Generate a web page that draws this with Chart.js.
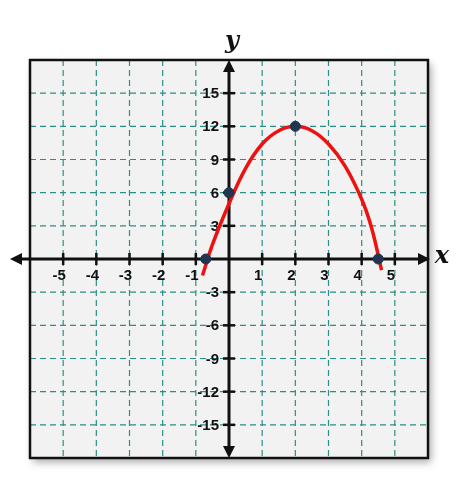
<!DOCTYPE html>
<html>
<head>
<script src="https://cdn.jsdelivr.net/npm/chart.js@4"></script>
<style>
body{margin:0;background:#fff;}
#wrap{width:470px;height:480px;}
</style>
</head>
<body>
<div id="wrap"><canvas id="graph" width="470" height="480"></canvas></div>
<script>
// curve
const curveX = [-0.8, -0.5, 0, 0.5, 1, 1.5, 2, 2.5, 3, 3.5, 4, 4.3, 4.6];
const curveY = [-1.5, 1.3, 5, 8.2, 10.4, 11.6, 12, 11.6, 10.4, 8.4, 5.4, 2.8, -1];
const dotX = [-0.7, 0, 2, 4.5];
const dotY = [0, 6, 12, 0];
const xTicks = [-5, -4, -3, -2, -1, 1, 2, 3, 4, 5];
const yTicks = [15, 12, 9, 6, 3, -3, -6, -9, -12, -15];

const gridPlugin = {
    id: 'gridAxes',
    beforeDatasetsDraw(chart) {
        const c = chart.ctx, a = chart.chartArea;
        const sx = chart.scales.x, sy = chart.scales.y;
        c.save();
        c.shadowColor = 'rgba(0,0,0,0.35)';
        c.shadowBlur = 8; c.shadowOffsetX = 3; c.shadowOffsetY = 4;
        c.fillStyle = '#f2f2f2';
        c.fillRect(a.left, a.top, a.width, a.height);
        c.restore();
        c.save();
        c.strokeStyle = '#2a8f85'; c.lineWidth = 1.2; c.setLineDash([6, 4]);
        for (let v = -5; v <= 5; v++) {
            const px = sx.getPixelForValue(v);
            c.beginPath(); c.moveTo(px, a.top); c.lineTo(px, a.bottom); c.stroke();
        }
        for (let v = -15; v <= 15; v += 3) {
            const py = sy.getPixelForValue(v);
            c.beginPath(); c.moveTo(a.left, py); c.lineTo(a.right, py); c.stroke();
        }
        c.setLineDash([]);
        c.strokeStyle = '#111'; c.lineWidth = 2.5;
        c.strokeRect(a.left, a.top, a.width, a.height);
        const x0 = sx.getPixelForValue(0), y0 = sy.getPixelForValue(0);
        c.lineWidth = 3;
        c.beginPath(); c.moveTo(14, y0); c.lineTo(a.right, y0); c.stroke();
        c.beginPath(); c.moveTo(x0, a.top + 4); c.lineTo(x0, a.bottom - 4); c.stroke();
        c.fillStyle = '#111';
        const arrow = (x, y, dx, dy) => {
            c.beginPath();
            c.moveTo(x, y);
            c.lineTo(x - dx * 12 - dy * 6, y - dy * 12 - dx * 6);
            c.lineTo(x - dx * 12 + dy * 6, y - dy * 12 + dx * 6);
            c.closePath(); c.fill();
        };
        arrow(10, y0, -1, 0); arrow(a.right + 2, y0, 1, 0);
        arrow(x0, a.top, 0, -1); arrow(x0, a.bottom, 0, 1);
        c.lineWidth = 2.5;
        c.font = 'bold 15px "Liberation Sans", Arial';
        c.textAlign = 'center'; c.textBaseline = 'top';
        xTicks.forEach(v => {
            const px = sx.getPixelForValue(v);
            c.beginPath(); c.moveTo(px, y0 - 6); c.lineTo(px, y0 + 6); c.stroke();
            c.fillText(String(v), px - 4, y0 + 9);
        });
        c.textAlign = 'right'; c.textBaseline = 'middle';
        yTicks.forEach(v => {
            const py = sy.getPixelForValue(v);
            c.beginPath(); c.moveTo(x0 - 6, py); c.lineTo(x0 + 6, py); c.stroke();
            c.fillText(String(v), x0 - 10, py + 1);
        });
        c.font = 'italic bold 24px "DejaVu Serif", serif';
        c.textAlign = 'center';
        c.fillText('x', 442, y0 - 2);
        c.fillText('y', x0 + 3, 42);
        c.restore();
    }
};

new Chart(document.getElementById('graph').getContext('2d'), {
    type: 'scatter',
    data: {
        datasets: [{
            data: curveX.map((x, i) => ({x: x, y: curveY[i]})),
            showLine: true, borderColor: '#ee1111', borderWidth: 3.5,
            pointRadius: 0, tension: 0.4, order: 2
        }, {
            data: dotX.map((x, i) => ({x: x, y: dotY[i]})),
            pointRadius: 5, backgroundColor: '#1f3550', borderColor: '#1f3550', order: 1
        }]
    },
    options: {
        responsive: false, animation: false,
        layout: {padding: {left: 30, right: 42, top: 60, bottom: 22}},
        plugins: {legend: {display: false}, tooltip: {enabled: false}},
        scales: {
            x: {type: 'linear', min: -6, max: 6, display: false},
            y: {type: 'linear', min: -18, max: 18, display: false}
        }
    },
    plugins: [gridPlugin]
});
</script>
</body>
</html>
